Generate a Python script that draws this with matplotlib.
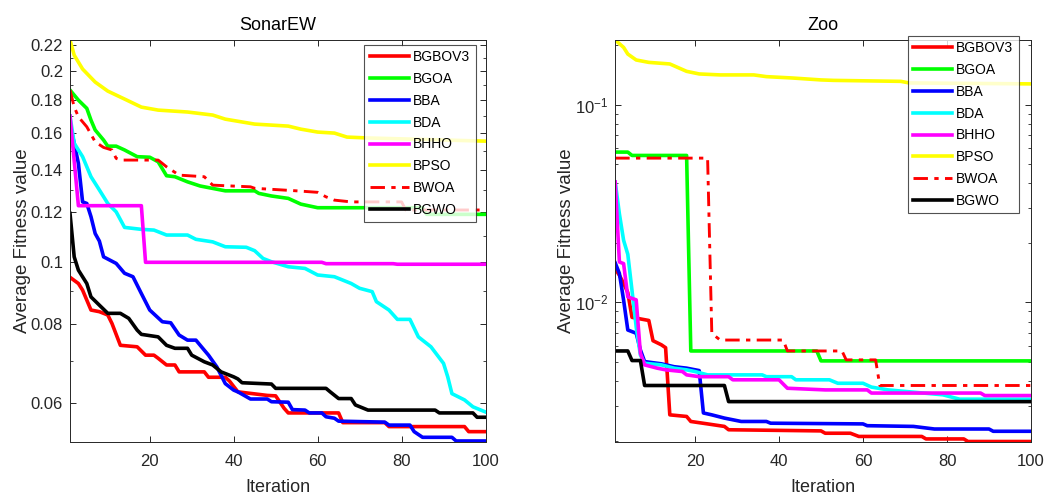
import matplotlib
matplotlib.use("Agg")
import matplotlib.pyplot as plt
from matplotlib.ticker import FixedLocator, NullFormatter, LogLocator

plt.rcParams['font.family'] = ['Liberation Sans', 'DejaVu Sans']

names = ['BGBOV3', 'BGOA', 'BBA', 'BDA', 'BHHO', 'BPSO', 'BWOA', 'BGWO']
colors = ['#FF0000', '#00FF00', '#0000FF', '#00FFFF', '#FF00FF', '#FFFF00', '#FF0000', '#000000']

# ---- SonarEW convergence (iteration, mean fitness) ----
sonar_bgbov3_it = [1, 3, 4, 6, 8, 10, 11, 13, 17, 19, 21, 22, 24, 26, 27, 33, 34, 38, 39, 41, 48, 50, 52, 53, 65, 66, 76, 77, 95, 96, 100]
sonar_bgbov3 = [0.0947, 0.0926, 0.0904, 0.0841, 0.0836, 0.0826, 0.0801, 0.0740, 0.0736, 0.0714, 0.0714, 0.0706, 0.0689, 0.0689, 0.0672, 0.0672, 0.0659, 0.0659, 0.0650, 0.0625, 0.0617, 0.0616, 0.0589, 0.0579, 0.0579, 0.0559, 0.0559, 0.0551, 0.0551, 0.0541, 0.0541]

sonar_bgoa_it = [1, 3, 5, 6, 7, 9, 10, 12, 14, 17, 20, 22, 24, 26, 29, 32, 38, 45, 46, 49, 53, 56, 60, 85, 86, 100]
sonar_bgoa = [0.1868, 0.1801, 0.1748, 0.1675, 0.1616, 0.1558, 0.1524, 0.1524, 0.1503, 0.1467, 0.1464, 0.1440, 0.1369, 0.1364, 0.1339, 0.1319, 0.1296, 0.1296, 0.1284, 0.1272, 0.1261, 0.1235, 0.1219, 0.1219, 0.1190, 0.1190]

sonar_bba_it = [1, 2, 3, 4, 5, 6, 7, 8, 9, 12, 14, 16, 18, 20, 23, 25, 27, 29, 31, 33, 34, 36, 38, 40, 41, 44, 48, 49, 53, 54, 57, 58, 61, 62, 64, 65, 76, 77, 82, 83, 85, 92, 93, 100]
sonar_bba = [0.165, 0.154, 0.1432, 0.1245, 0.1238, 0.118, 0.111, 0.108, 0.102, 0.0996, 0.0961, 0.0949, 0.0893, 0.0841, 0.0806, 0.0803, 0.0768, 0.0754, 0.0754, 0.0727, 0.0714, 0.0684, 0.0644, 0.0629, 0.0625, 0.0609, 0.0609, 0.0603, 0.0602, 0.0586, 0.0585, 0.0579, 0.0579, 0.0571, 0.0568, 0.0562, 0.0560, 0.0554, 0.0554, 0.0541, 0.0530, 0.0530, 0.0523, 0.0523]

sonar_bda_it = [1, 2, 4, 6, 8, 10, 12, 14, 18, 21, 24, 29, 31, 35, 38, 43, 45, 47, 49, 53, 57, 60, 64, 68, 70, 73, 74, 77, 79, 82, 84, 87, 90, 91, 92, 95, 97, 100]
sonar_bda = [0.170, 0.154, 0.1467, 0.1364, 0.130, 0.1238, 0.1201, 0.1135, 0.1127, 0.1124, 0.1104, 0.1104, 0.1087, 0.1077, 0.1058, 0.1056, 0.1043, 0.1014, 0.1002, 0.0984, 0.0978, 0.0955, 0.0949, 0.0926, 0.0910, 0.0899, 0.0867, 0.0841, 0.0813, 0.0813, 0.0763, 0.0736, 0.0693, 0.0660, 0.0621, 0.0607, 0.0592, 0.0581]

sonar_bhho_it = [1, 3, 18, 19, 61, 62, 78, 79, 100]
sonar_bhho = [0.170, 0.1228, 0.1228, 0.1000, 0.1000, 0.0995, 0.0995, 0.0993, 0.0993]

sonar_bpso_it = [1, 2, 4, 7, 10, 14, 18, 22, 29, 35, 38, 45, 49, 53, 56, 60, 64, 67, 72, 100]
sonar_bpso = [0.224, 0.212, 0.2016, 0.1923, 0.1861, 0.1808, 0.1756, 0.1737, 0.1725, 0.1706, 0.1681, 0.1651, 0.1645, 0.1639, 0.1621, 0.1604, 0.1598, 0.1575, 0.1570, 0.1552]

sonar_bwoa_it = [1, 2, 3, 5, 7, 9, 11, 12, 13, 22, 24, 27, 33, 35, 44, 45, 55, 60, 62, 64, 68, 80, 81, 100]
sonar_bwoa = [0.1868, 0.1758, 0.1695, 0.1635, 0.1548, 0.1517, 0.1503, 0.1458, 0.1449, 0.1449, 0.1414, 0.1372, 0.1364, 0.1323, 0.1315, 0.1308, 0.1296, 0.1289, 0.1268, 0.1253, 0.1245, 0.1245, 0.1209, 0.1209]

sonar_bgwo_it = [1, 2, 3, 5, 6, 8, 10, 13, 15, 17, 18, 22, 24, 26, 29, 30, 33, 35, 37, 40, 41, 42, 49, 50, 62, 63, 65, 68, 69, 72, 88, 89, 97, 98, 100]
sonar_bgwo = [0.1194, 0.1020, 0.0972, 0.0926, 0.0882, 0.0856, 0.0831, 0.0831, 0.0816, 0.0782, 0.0770, 0.0763, 0.0740, 0.0732, 0.0732, 0.0714, 0.0697, 0.0689, 0.0672, 0.0660, 0.0655, 0.0646, 0.0643, 0.0633, 0.0633, 0.0625, 0.0610, 0.0610, 0.0596, 0.0585, 0.0585, 0.0579, 0.0579, 0.0570, 0.0570]

# ---- Zoo convergence (iteration, mean fitness) ----
zoo_bgbov3_it = [1, 2, 3, 4, 5, 9, 10, 12, 13, 14, 18, 19, 23, 27, 28, 50, 51, 57, 59, 74, 75, 84, 85, 100]
zoo_bgbov3 = [0.0148, 0.0137, 0.0125, 0.0112, 0.0084, 0.0081, 0.0064, 0.0061, 0.0059, 0.0027, 0.00265, 0.0025, 0.00243, 0.00236, 0.00227, 0.00224, 0.00218, 0.00218, 0.0021, 0.0021, 0.00204, 0.00204, 0.00198, 0.00198]

zoo_bgoa_it = [1, 4, 5, 18, 19, 49, 50, 100]
zoo_bgoa = [0.0575, 0.0575, 0.0553, 0.0553, 0.00568, 0.00568, 0.00506, 0.00506]

zoo_bba_it = [1, 2, 3, 4, 6, 7, 8, 12, 15, 18, 21, 22, 24, 27, 31, 37, 38, 60, 61, 72, 77, 90, 91, 100]
zoo_bba = [0.01584, 0.0140, 0.01027, 0.00725, 0.00698, 0.00575, 0.00502, 0.00489, 0.00473, 0.00465, 0.00452, 0.00276, 0.0027, 0.0026, 0.0025, 0.0025, 0.00245, 0.00243, 0.00238, 0.00236, 0.00229, 0.00229, 0.00223, 0.00223]

zoo_bda_it = [1, 2, 3, 4, 5, 6, 7, 8, 12, 15, 18, 20, 23, 36, 37, 43, 44, 52, 54, 60, 62, 66, 79, 83, 100]
zoo_bda = [0.0406, 0.028, 0.0206, 0.0175, 0.0115, 0.0075, 0.00542, 0.00492, 0.00483, 0.00465, 0.00456, 0.00447, 0.0043, 0.0043, 0.00421, 0.00421, 0.00406, 0.00406, 0.0039, 0.0039, 0.00373, 0.00361, 0.00341, 0.00324, 0.00324]

zoo_bhho_it = [1, 2, 3, 4, 5, 6, 7, 8, 11, 13, 17, 18, 21, 28, 29, 40, 42, 51, 61, 62, 88, 89, 100]
zoo_bhho = [0.0406, 0.0160, 0.0157, 0.01067, 0.01047, 0.0103, 0.00553, 0.00483, 0.00465, 0.00456, 0.00447, 0.0043, 0.00421, 0.00421, 0.00406, 0.00406, 0.00368, 0.00361, 0.00361, 0.00348, 0.00348, 0.00338, 0.00338]

zoo_bpso_it = [1, 3, 4, 6, 9, 14, 18, 21, 26, 34, 37, 43, 50, 53, 69, 71, 100]
zoo_bpso = [0.212, 0.1945, 0.180, 0.168, 0.1634, 0.1604, 0.1472, 0.1428, 0.1412, 0.1412, 0.1384, 0.1363, 0.1332, 0.1325, 0.1310, 0.1286, 0.1272]

zoo_bwoa_it = [1, 23, 24, 25, 26, 41, 42, 55, 56, 63, 64, 100]
zoo_bwoa = [0.0536, 0.0536, 0.00698, 0.0067, 0.00645, 0.00645, 0.00568, 0.00568, 0.00512, 0.00512, 0.0038, 0.0038]

zoo_bgwo_it = [1, 4, 5, 7, 8, 27, 28, 100]
zoo_bgwo = [0.00568, 0.00568, 0.00508, 0.00508, 0.0038, 0.0038, 0.00315, 0.00315]

sonar_series = [(sonar_bgbov3_it, sonar_bgbov3), (sonar_bgoa_it, sonar_bgoa), (sonar_bba_it, sonar_bba),
                (sonar_bda_it, sonar_bda), (sonar_bhho_it, sonar_bhho), (sonar_bpso_it, sonar_bpso),
                (sonar_bwoa_it, sonar_bwoa), (sonar_bgwo_it, sonar_bgwo)]
zoo_series = [(zoo_bgbov3_it, zoo_bgbov3), (zoo_bgoa_it, zoo_bgoa), (zoo_bba_it, zoo_bba),
              (zoo_bda_it, zoo_bda), (zoo_bhho_it, zoo_bhho), (zoo_bpso_it, zoo_bpso),
              (zoo_bwoa_it, zoo_bwoa), (zoo_bgwo_it, zoo_bgwo)]

sonar_yticks = [0.06, 0.08, 0.1, 0.12, 0.14, 0.16, 0.18, 0.2, 0.22]
sonar_yticklabels = ['0.06', '0.08', '0.1', '0.12', '0.14', '0.16', '0.18', '0.2', '0.22']
sonar_yminor = [0.07, 0.09, 0.11, 0.13, 0.15, 0.17, 0.19, 0.21]
x_ticks = [20, 40, 60, 80, 100]

W, H = 1046, 497
fig = plt.figure(figsize=(W / 100, H / 100), dpi=100)
ax1 = fig.add_axes([70 / W, 1 - 441.5 / H, 415.5 / W, 401.5 / H])
ax2 = fig.add_axes([615.2 / W, 1 - 441.5 / H, 415.8 / W, 401.5 / H])

axis_gray = '#262626'
lw = 2.6


def draw(ax, series):
    handles = []
    for (it, vals), name, c in zip(series, names, colors):
        if name == 'BWOA':
            h, = ax.plot(it, vals, color=c, lw=lw * 0.8, dashes=(5, 2.2, 1.5, 2.2), label=name)
        else:
            h, = ax.plot(it, vals, color=c, lw=lw, label=name)
        handles.append(h)
    ax.set_yscale('log')
    ax.set_xlim(1, 100)
    ax.set_xticks(x_ticks)
    ax.tick_params(which='both', direction='in', top=True, right=True,
                   colors=axis_gray, labelsize=12, labelcolor=axis_gray)
    ax.tick_params(which='major', length=4.5, width=0.7)
    ax.tick_params(which='minor', length=2.5, width=0.6)
    ax.tick_params(axis='x', which='major', pad=9)
    ax.tick_params(axis='y', which='major', pad=5)
    for s in ax.spines.values():
        s.set_color(axis_gray)
        s.set_linewidth(0.7)
    ax.set_xlabel('Iteration', fontsize=13, color=axis_gray, labelpad=7)
    ax.set_ylabel('Average Fitness value', fontsize=13.5, color=axis_gray, labelpad=0)
    return handles


h1 = draw(ax1, sonar_series)
ax1.set_ylim(0.0522, 0.224)
ax1.yaxis.set_major_locator(FixedLocator(sonar_yticks))
ax1.set_yticklabels(sonar_yticklabels)
ax1.yaxis.set_minor_locator(FixedLocator(sonar_yminor))
ax1.yaxis.set_minor_formatter(NullFormatter())
ax1.set_title('SonarEW', fontsize=13, pad=7)

h2 = draw(ax2, zoo_series)
ax2.set_ylim(0.00198, 0.212)
ax2.yaxis.set_major_locator(LogLocator(base=10, numticks=10))
ax2.yaxis.set_minor_locator(LogLocator(base=10, subs=range(2, 10), numticks=20))
ax2.yaxis.set_minor_formatter(NullFormatter())
ax2.set_title('Zoo', fontsize=13, pad=7)

leg_kw = dict(loc='upper right', bbox_transform=fig.transFigure, fontsize=10,
              frameon=True, fancybox=False, shadow=False, handlelength=2.8,
              handletextpad=0.3, labelspacing=0.56, borderpad=0.4, borderaxespad=0)
for ax, hs, anchor in [(ax1, h1, (475.7 / W, 1 - 44.7 / H)), (ax2, h2, (1019 / W, 1 - 35.7 / H))]:
    leg = ax.legend(handles=hs, bbox_to_anchor=anchor, **leg_kw)
    leg.get_frame().set_edgecolor('#262626')
    leg.get_frame().set_linewidth(0.8)

fig.savefig('out.png', dpi=100)
